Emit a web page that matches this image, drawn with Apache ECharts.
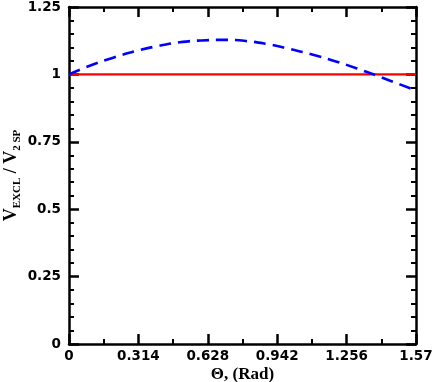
<!DOCTYPE html>
<html><head><meta charset="utf-8">
<script src="https://cdn.jsdelivr.net/npm/echarts@6/dist/echarts.min.js"></script>
<style>html,body{margin:0;padding:0;background:#fff}#c{width:436px;height:382px}</style>
</head><body><div id="c"></div>
<script>
var thetaValues = [0, 0.1, 0.2, 0.3, 0.4, 0.5, 0.6, 0.7, 0.8, 0.9, 1.0, 1.1, 1.2, 1.3, 1.4, 1.5, 1.57];
var ratioExcl = [1.0, 1.034, 1.062, 1.086, 1.105, 1.119, 1.126, 1.128, 1.124, 1.112, 1.094, 1.074, 1.05, 1.023, 0.993, 0.962, 0.94];
var refTheta = [0, 1.57];
var refValues = [1, 1];
var xTickLabels = ['0', '0.314', '0.628', '0.942', '1.256', '1.57'];
var yTickLabels = ['0', '0.25', '0.5', '0.75', '1', '1.25'];

var chart = echarts.init(document.getElementById('c'));
var tickFont = {fontFamily: 'DejaVu Sans', fontWeight: 'bold', fontSize: 13.5, color: '#000'};
function axisCommon(extra) {
  return Object.assign({
    axisLine: {show: true, onZero: false, lineStyle: {color: '#000', width: 2.5}},
    axisTick: {show: true, inside: true, length: 10, lineStyle: {color: '#000', width: 2.5}},
    splitLine: {show: false},
    nameMoveOverlap: false
  }, extra);
}
var option = {
  animation: false,
  grid: {left: 69, right: 20, top: 7, bottom: 38, containLabel: false, outerBoundsMode: 'none'},
  xAxis: [
    axisCommon({type: 'value', min: 0, max: 1.57, interval: 0.314, position: 'bottom',
      minorTick: {show: true, splitNumber: 2, length: 5, lineStyle: {color: '#000', width: 2}},
      axisLabel: Object.assign({margin: 5, formatter: function (v) { var i = Math.round(v / 0.314); return xTickLabels[i]; }}, tickFont),
      name: 'Θ, (Rad)', nameLocation: 'middle', nameGap: 22,
      nameTextStyle: {fontFamily: 'Liberation Serif', fontWeight: 'bold', fontSize: 17, color: '#000'}}),
    axisCommon({type: 'value', min: 0, max: 1.57, interval: 0.314, position: 'top',
      minorTick: {show: true, splitNumber: 2, length: 5, lineStyle: {color: '#000', width: 2}},
      axisLabel: {show: false}})
  ],
  yAxis: [
    axisCommon({type: 'value', min: 0, max: 1.25, interval: 0.25, position: 'left',
      minorTick: {show: true, splitNumber: 5, length: 5, lineStyle: {color: '#000', width: 2}},
      axisLabel: Object.assign({margin: 8, formatter: function (v) { var i = Math.round(v / 0.25); return yTickLabels[i]; }}, tickFont),
      name: '{v|V}{s|EXCL}{v| / V}{s|2 SP}', nameLocation: 'middle', nameGap: 49,
      nameTextStyle: {rich: {
        v: {fontFamily: 'Liberation Serif', fontWeight: 'bold', fontSize: 18, color: '#000', verticalAlign: 'bottom', lineHeight: 20},
        s: {fontFamily: 'Liberation Serif', fontWeight: 'bold', fontSize: 11, color: '#000', verticalAlign: 'bottom', lineHeight: 11, padding: [0, 0, -3, 0]}
      }}}),
    axisCommon({type: 'value', min: 0, max: 1.25, interval: 0.25, position: 'right',
      minorTick: {show: true, splitNumber: 5, length: 5, lineStyle: {color: '#000', width: 2}},
      axisLabel: {show: false}})
  ],
  series: [
    {type: 'line', xAxisIndex: 0, yAxisIndex: 0, data: refTheta.map(function (t, i) { return [t, refValues[i]]; }),
      showSymbol: false, lineStyle: {color: '#ff0000', width: 2.2}, z: 2},
    {type: 'line', xAxisIndex: 0, yAxisIndex: 0, smooth: true, data: thetaValues.map(function (t, i) { return [t, ratioExcl[i]]; }),
      showSymbol: false, lineStyle: {color: '#0000ff', width: 2.6, type: [12, 7]}, z: 3}
  ]
};
chart.setOption(option);
</script></body></html>
